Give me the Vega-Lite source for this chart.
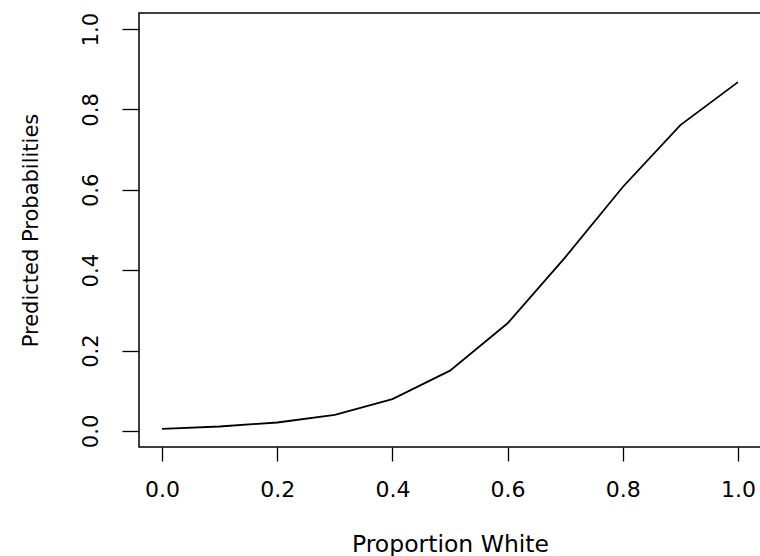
{
  "$schema": "https://vega.github.io/schema/vega-lite/v6.json",
  "autosize": "none",
  "width": 622,
  "height": 434,
  "padding": {"left": 139, "top": 13, "right": 0, "bottom": 109},
  "background": "white",
  "config": {
    "view": {"stroke": "black", "strokeWidth": 1.5},
    "axis": {
      "grid": false,
      "domain": false,
      "tickColor": "black",
      "tickWidth": 1.3,
      "labelColor": "black",
      "titleColor": "black",
      "labelFont": "DejaVu Sans",
      "titleFont": "DejaVu Sans",
      "titleFontWeight": "normal"
    }
  },
  "data": {
    "values": [
      {"prop_white": 0.0, "prob": 0.005},
      {"prop_white": 0.1, "prob": 0.011},
      {"prop_white": 0.2, "prob": 0.021},
      {"prop_white": 0.3, "prob": 0.040},
      {"prop_white": 0.4, "prob": 0.079},
      {"prop_white": 0.5, "prob": 0.150},
      {"prop_white": 0.6, "prob": 0.268},
      {"prop_white": 0.7, "prob": 0.432},
      {"prop_white": 0.8, "prob": 0.607},
      {"prop_white": 0.9, "prob": 0.761},
      {"prop_white": 1.0, "prob": 0.868}
    ]
  },
  "mark": {"type": "line", "color": "black", "strokeWidth": 1.8},
  "encoding": {
    "x": {
      "field": "prop_white",
      "type": "quantitative",
      "scale": {"domain": [-0.04, 1.04], "nice": false, "zero": false},
      "axis": {
        "title": "Proportion White",
        "values": [0, 0.2, 0.4, 0.6, 0.8, 1.0],
        "format": ".1f",
        "tickSize": 14,
        "labelPadding": 18,
        "labelFontSize": 22,
        "labelBaseline": "top",
        "labelFlush": false,
        "labelOverlap": false,
        "titleFontSize": 23.5,
        "titleBaseline": "alphabetic",
        "titleY": 104
      }
    },
    "y": {
      "field": "prob",
      "type": "quantitative",
      "scale": {"domain": [-0.04, 1.04], "nice": false, "zero": false},
      "axis": {
        "title": "Predicted Probabilities",
        "values": [0, 0.2, 0.4, 0.6, 0.8, 1.0],
        "format": ".1f",
        "tickSize": 17,
        "labelPadding": 25,
        "labelFontSize": 21,
        "labelAngle": -90,
        "labelAlign": "center",
        "labelBaseline": "alphabetic",
        "labelFlush": false,
        "labelOverlap": false,
        "titleFontSize": 21,
        "titleAngle": -90,
        "titleAlign": "center",
        "titleBaseline": "alphabetic",
        "titleX": -102,
        "titleY": 217
      }
    }
  }
}
